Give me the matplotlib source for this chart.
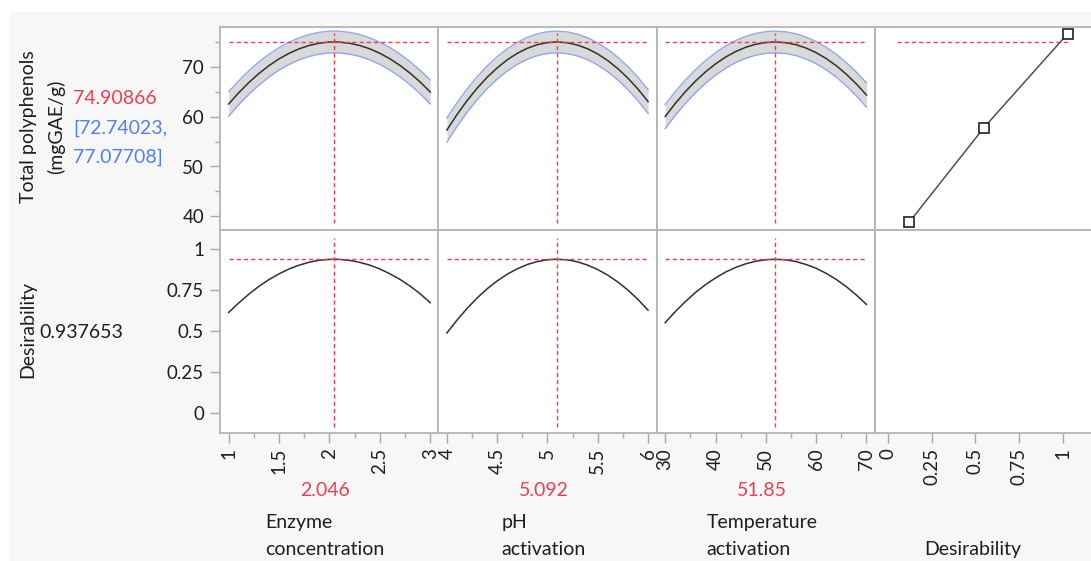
import matplotlib
matplotlib.use("Agg")
import matplotlib.pyplot as plt
from matplotlib.patches import Rectangle

plt.rcParams['font.family'] = ['Lato', 'DejaVu Sans']

W, H = 1091, 561

# current factor settings (optimum) and response summary
factor_labels = ["Enzyme\nconcentration", "pH\nactivation", "Temperature\nactivation"]
factor_current = [2.046, 5.092, 51.85]
factor_current_text = ["2.046", "5.092", "51.85"]
response_value_text = "74.90866"
response_ci_text = ["[72.74023,", "77.07708]"]
desirability_value = 0.937653
desirability_text = "0.937653"
response_current = 74.90866

# profile traces
enzyme_x = [1.0, 1.1, 1.2, 1.3, 1.4, 1.5, 1.6, 1.7, 1.8, 1.9, 2.0, 2.046,
            2.1, 2.2, 2.3, 2.4, 2.5, 2.6, 2.7, 2.8, 2.9, 3.0]
enzyme_tp = [62.50, 64.76, 66.79, 68.60, 70.18, 71.53, 72.65, 73.55, 74.22, 74.67, 74.89, 74.91,
             74.88, 74.65, 74.20, 73.53, 72.64, 71.53, 70.21, 68.66, 66.89, 64.90]
enzyme_lo = [60.06, 62.37, 64.44, 66.29, 67.91, 69.29, 70.43, 71.35, 72.03, 72.49, 72.72, 72.74,
             72.71, 72.47, 72.01, 71.33, 70.42, 69.28, 67.93, 66.35, 64.54, 62.50]
enzyme_hi = [64.94, 67.15, 69.14, 70.91, 72.45, 73.77, 74.87, 75.75, 76.41, 76.85, 77.06, 77.08,
             77.05, 76.83, 76.39, 75.73, 74.86, 73.78, 72.49, 70.97, 69.24, 67.30]
enzyme_des = [0.614, 0.672, 0.725, 0.773, 0.814, 0.849, 0.879, 0.902, 0.920, 0.932, 0.937, 0.938,
              0.937, 0.931, 0.919, 0.902, 0.879, 0.849, 0.815, 0.774, 0.728, 0.673]

ph_x = [4.0, 4.1, 4.2, 4.3, 4.4, 4.5, 4.6, 4.7, 4.8, 4.9, 5.0, 5.092,
        5.2, 5.3, 5.4, 5.5, 5.6, 5.7, 5.8, 5.9, 6.0]
ph_tp = [57.30, 60.37, 63.16, 65.64, 67.84, 69.73, 71.33, 72.64, 73.65, 74.37, 74.78, 74.91,
         74.74, 74.28, 73.54, 72.50, 71.18, 69.57, 67.67, 65.48, 63.00]
ph_lo = [54.89, 58.00, 60.83, 63.34, 65.57, 67.49, 69.11, 70.44, 71.46, 72.19, 72.61, 72.74,
         72.57, 72.10, 71.34, 70.29, 68.94, 67.30, 65.36, 63.13, 60.61]
ph_hi = [59.71, 62.74, 65.49, 67.94, 70.11, 71.97, 73.55, 74.84, 75.84, 76.55, 76.95, 77.08,
         76.91, 76.46, 75.74, 74.71, 73.42, 71.84, 69.98, 67.83, 65.39]
ph_des = [0.489, 0.567, 0.638, 0.702, 0.758, 0.806, 0.847, 0.880, 0.906, 0.924, 0.935, 0.938,
          0.934, 0.922, 0.902, 0.875, 0.841, 0.799, 0.750, 0.693, 0.628]

temp_x = [30, 32, 34, 36, 38, 40, 42, 44, 46, 48, 50, 51.85,
          54, 56, 58, 60, 62, 64, 66, 68, 70]
temp_tp = [60.00, 62.61, 64.96, 67.06, 68.92, 70.52, 71.88, 72.99, 73.84, 74.45, 74.80, 74.91,
           74.76, 74.36, 73.69, 72.77, 71.59, 70.16, 68.46, 66.51, 64.30]
temp_lo = [57.59, 60.24, 62.63, 64.76, 66.65, 68.28, 69.66, 70.79, 71.65, 72.27, 72.63, 72.74,
           72.59, 72.18, 71.49, 70.55, 69.34, 67.87, 66.13, 64.13, 61.87]
temp_hi = [62.41, 64.98, 67.29, 69.36, 71.19, 72.76, 74.10, 75.19, 76.03, 76.63, 76.97, 77.08,
           76.93, 76.54, 75.89, 74.99, 73.84, 72.45, 70.79, 68.89, 66.73]
temp_des = [0.552, 0.619, 0.680, 0.735, 0.783, 0.824, 0.860, 0.888, 0.910, 0.926, 0.935, 0.938,
            0.934, 0.924, 0.906, 0.883, 0.852, 0.815, 0.771, 0.720, 0.663]

# desirability function (desirability vs response)
dfun_des = [0.12, 0.55, 1.03]
dfun_tp = [38.8, 57.8, 76.6]

# ticks
enzyme_ticks = [1, 1.5, 2, 2.5, 3]
enzyme_ticklabels = ["1", "1.5", "2", "2.5", "3"]
ph_ticks = [4, 4.5, 5, 5.5, 6]
ph_ticklabels = ["4", "4.5", "5", "5.5", "6"]
temp_ticks = [30, 40, 50, 60, 70]
temp_ticklabels = ["30", "40", "50", "60", "70"]
des_ticks = [0, 0.25, 0.5, 0.75, 1]
des_ticklabels = ["0", "0.25", "0.5", "0.75", "1"]
tp_ticks = [40, 50, 60, 70]
tp_ticklabels = ["40", "50", "60", "70"]

RED = '#f03c50'
BLUE = '#4f7ff5'
SPINE = '#b4b4b4'
TXT = '#1e1e1e'
FS = 13.5
LFS = 14

fig = plt.figure(figsize=(W / 100, H / 100), dpi=100)
fig.patches.append(Rectangle((10 / W, 0), 1, 1 - 12 / H, transform=fig.transFigure,
                             facecolor='#f7f7f7', edgecolor='none', zorder=-10))

axes = fig.subplots(2, 4, gridspec_kw=dict(left=220 / W, right=1093 / W, top=1 - 27 / H,
                                           bottom=1 - 433 / H, wspace=0, hspace=0))

traces = [
    (enzyme_x, enzyme_tp, enzyme_lo, enzyme_hi, enzyme_des, (0.914, 3.079), enzyme_ticks, enzyme_ticklabels,
     [1.25, 1.75, 2.25, 2.75]),
    (ph_x, ph_tp, ph_lo, ph_hi, ph_des, (3.914, 6.084), ph_ticks, ph_ticklabels, [4.25, 4.75, 5.25, 5.75]),
    (temp_x, temp_tp, temp_lo, temp_hi, temp_des, (28.27, 71.65), temp_ticks, temp_ticklabels, [35, 45, 55, 65]),
]

for ax in axes.flat:
    ax.set_facecolor('white')
    for s in ax.spines.values():
        s.set_color(SPINE)
        s.set_linewidth(1.3)
    ax.tick_params(which='both', direction='out', color='#a8a8a8', labelcolor=TXT,
                   labelsize=FS, width=1)
    ax.tick_params(which='major', length=7.2)
    ax.tick_params(which='minor', length=3.6)

dash = dict(color=RED, lw=1.0, linestyle=(0, (3, 2.2)))

for j, (x, tp, lo, hi, des, xl, ticks, tlabels, minor) in enumerate(traces):
    top, bot = axes[0, j], axes[1, j]
    top.fill_between(x, lo, hi, color='#d9d9d9', lw=0, zorder=1)
    top.plot(x, lo, color='#90a8ee', lw=1.0, zorder=2)
    top.plot(x, hi, color='#90a8ee', lw=1.0, zorder=2)
    top.plot(x, tp, color='#303030', lw=1.1, zorder=3)
    top.hlines(response_current, x[0], x[-1], **dash, zorder=4)
    top.axvline(factor_current[j], ymin=0.033, ymax=0.972, **dash, zorder=4)

    bot.plot(x, des, color='#303030', lw=1.1, zorder=3)
    bot.hlines(desirability_value, x[0], x[-1], **dash, zorder=4)
    bot.axvline(factor_current[j], ymin=0.031, ymax=0.962, **dash, zorder=4)

    for ax in (top, bot):
        ax.set_xlim(*xl)
    bot.set_xticks(ticks)
    bot.set_xticks(minor, minor=True)
    bot.set_xticklabels(tlabels, rotation=90)
    top.set_xticks(ticks)
    top.set_xticklabels([])

# desirability function panel
axd = axes[0, 3]
axd.plot(dfun_des, dfun_tp, color='#505050', lw=1.1, marker='s', ms=6.5,
         mfc='white', mec='#202020', mew=1.2, zorder=3)
axd.hlines(response_current, 0.054, 1.038, **dash, zorder=2)
for ax in axes[:, 3]:
    ax.set_xlim(-0.076, 1.174)
axes[1, 3].set_xticks(des_ticks)
axes[1, 3].set_xticklabels(des_ticklabels, rotation=90)
axes[0, 3].set_xticks(des_ticks)
axes[0, 3].set_xticklabels([])

for ax in axes[0, :]:
    ax.set_ylim(37.3, 77.9)
    ax.set_yticks(tp_ticks)
    ax.set_yticks([45, 55, 65, 75], minor=True)
    ax.tick_params(axis='x', which='both', bottom=False)
for ax in axes[1, :]:
    ax.set_ylim(-0.12, 1.116)
    ax.set_yticks(des_ticks)
    ax.set_yticks([], minor=True)
axes[0, 0].set_yticklabels(tp_ticklabels)
axes[1, 0].set_yticklabels(des_ticklabels)
for ax in axes[:, 1:].flat:
    ax.tick_params(axis='y', which='both', left=False, labelleft=False)
for ax in axes.flat:
    ax.tick_params(axis='y', pad=4.3)
    ax.tick_params(axis='x', pad=3.6)


def ftext(px, py, s, **kw):
    kw.setdefault('fontsize', LFS)
    kw.setdefault('color', TXT)
    fig.text(px / W, 1 - py / H, s, **kw)


# left side labels
ftext(42.5, 127, "Total polyphenols\n(mgGAE/g)", rotation=90, ha='center', va='center',
      multialignment='center', linespacing=1.72)
ftext(73, 99, response_value_text, color=RED, ha='left', va='center')
ftext(73, 128, response_ci_text[0], color=BLUE, ha='left', va='center')
ftext(73, 157, response_ci_text[1], color=BLUE, ha='left', va='center')
ftext(28, 330, "Desirability", rotation=90, ha='center', va='center')
ftext(39, 332, desirability_text, ha='left', va='center')

# bottom labels
centers = [325, 544, 762]
for c, lab, val in zip(centers, factor_labels, factor_current_text):
    ftext(c, 490, val, color=RED, ha='center', va='center')
    ftext(c, 536, lab, ha='center', va='center', multialignment='left', linespacing=1.72)
ftext(973, 550, "Desirability", ha='center', va='center')

fig.savefig("out.png", dpi=100)
